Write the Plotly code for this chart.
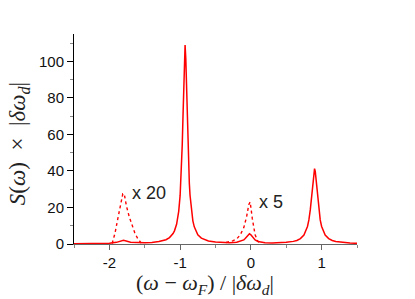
import plotly.graph_objects as go

# Solid spectrum
x_solid = [-2.5, -2.2, -2.0, -1.9, -1.8, -1.7, -1.6, -1.5, -1.4, -1.3, -1.2, -1.15, -1.1,
           -1.08, -1.05, -1.02, -1.0, -0.99, -0.98, -0.97, -0.96, -0.95, -0.94, -0.93,
           -0.92, -0.91, -0.90, -0.89, -0.88, -0.87, -0.86, -0.84, -0.82, -0.80, -0.78,
           -0.75, -0.7, -0.65, -0.6, -0.5, -0.4, -0.3, -0.2, -0.1, -0.08, -0.05, -0.02,
           0.0, 0.02, 0.06, 0.1, 0.2, 0.3, 0.4, 0.5, 0.6, 0.65, 0.7, 0.75, 0.8, 0.82,
           0.84, 0.85, 0.87, 0.88, 0.89, 0.90, 0.91, 0.92, 0.93, 0.95, 0.96, 0.98, 1.0,
           1.05, 1.1, 1.15, 1.2, 1.3, 1.4, 1.5]
y_solid = [0.08, 0.19, 0.42, 0.9, 2.05, 1.01, 0.65, 0.67, 0.87, 1.32, 2.35, 3.5, 5.7,
           7.2, 10.8, 17.9, 26.6, 33.4, 42.1, 54.3, 69.1, 86.4, 101.6, 109.0,
           101.6, 86.4, 69.2, 54.3, 42.2, 33.4, 26.7, 17.9, 12.7, 9.4, 7.2,
           5.1, 3.2, 2.25, 1.66, 1.06, 0.8, 0.72, 0.94, 2.25, 2.98, 4.52, 5.56,
           5.03, 3.95, 2.23, 1.39, 0.75, 0.6, 0.68, 0.9, 1.44, 1.9, 2.96, 4.9, 9.6, 13.2,
           18.8, 22.4, 31.7, 36.2, 39.8, 41.3, 39.8, 36.2, 31.7, 22.4, 18.8, 13.2, 9.6,
           4.9, 2.93, 1.9, 1.37, 0.8, 0.49, 0.37]

# Magnified (x 20) left satellite
x_mag20 = [-1.96, -1.92, -1.88, -1.84, -1.81, -1.79, -1.76, -1.72, -1.68, -1.64, -1.60, -1.55]
y_mag20 = [0.3, 6.0, 14.0, 23.0, 27.5, 27.5, 21.0, 15.0, 10.0, 6.0, 3.0, 0.5]

# Magnified (x 5) central satellite
x_mag5 = [-0.35, -0.3, -0.25, -0.2, -0.15, -0.1, -0.06, -0.03, -0.01, 0.02, 0.06, 0.1, 0.13]
y_mag5 = [0.8, 1.2, 1.8, 2.8, 5.0, 9.0, 15.0, 21.5, 23.0, 14.0, 5.0, 1.5, 0.5]

x_ticks = [-2, -1, 0, 1]
x_ticktext = ["-2", "-1", "0", "1"]
y_ticks = [0, 20, 40, 60, 80, 100]

RED = "#ff0000"
fig = go.Figure()
fig.add_trace(go.Scatter(x=x_solid, y=y_solid, mode="lines",
                         line=dict(color=RED, width=1.5)))
fig.add_trace(go.Scatter(x=x_mag20, y=y_mag20, mode="lines",
                         line=dict(color=RED, width=1.4, dash="dot")))
fig.add_trace(go.Scatter(x=x_mag5, y=y_mag5, mode="lines",
                         line=dict(color=RED, width=1.4, dash="dot")))

lab_font = dict(family="Liberation Sans, Arial", size=18, color="#222")
fig.add_annotation(x=-1.71, y=28, xref="x", yref="y", text="x 20", showarrow=False,
                   xanchor="left", yanchor="middle", font=lab_font)
fig.add_annotation(x=0.09, y=23, xref="x", yref="y", text="x 5", showarrow=False,
                   xanchor="left", yanchor="middle", font=lab_font)

title_font = dict(family="Liberation Serif, DejaVu Serif", size=22, color="#222")
# x-axis title
fig.add_annotation(x=0.463, y=0, xref="paper", yref="paper", yshift=-40,
                   text="(<i>ω</i> − <i>ω<sub>F</sub></i>) / |<i>δω<sub>d</sub></i>|",
                   showarrow=False, xanchor="center", yanchor="middle", font=title_font)
# y-axis title
fig.add_annotation(x=-0.194, y=0.476, xref="paper", yref="paper", textangle=-90,
                   text="<i>S</i>(<i>ω</i>)  ×  |<i>δω<sub>d</sub></i>|",
                   showarrow=False, xanchor="center", yanchor="middle",
                   font=dict(family="Liberation Serif, DejaVu Serif", size=23, color="#222"))

fig.update_layout(
    width=415, height=299,
    margin=dict(l=74, r=58, t=34, b=55, autoexpand=False),
    paper_bgcolor="white", plot_bgcolor="white",
    showlegend=False,
    font=dict(family="Liberation Sans, Arial", size=15, color="#111"),
)
fig.update_xaxes(
    range=[-2.5, 1.5], tickvals=x_ticks, ticktext=x_ticktext,
    showgrid=False, zeroline=False, automargin=False,
    showline=True, linecolor="#666", linewidth=1,
    ticks="outside", ticklen=5, tickcolor="#666",
    minor=dict(dtick=0.5, ticks="outside", ticklen=3, tickcolor="#888"),
)
fig.update_yaxes(
    range=[0, 115], tickvals=y_ticks,
    showgrid=False, zeroline=False, automargin=False,
    showline=True, linecolor="black", linewidth=1,
    ticks="outside", ticklen=6, tickcolor="black",
    minor=dict(dtick=10, ticks="outside", ticklen=3, tickcolor="#888"),
)

fig.write_html("out.html", config={"displayModeBar": False},
               post_script="document.body.style.margin='0';document.body.style.overflow='hidden';")
